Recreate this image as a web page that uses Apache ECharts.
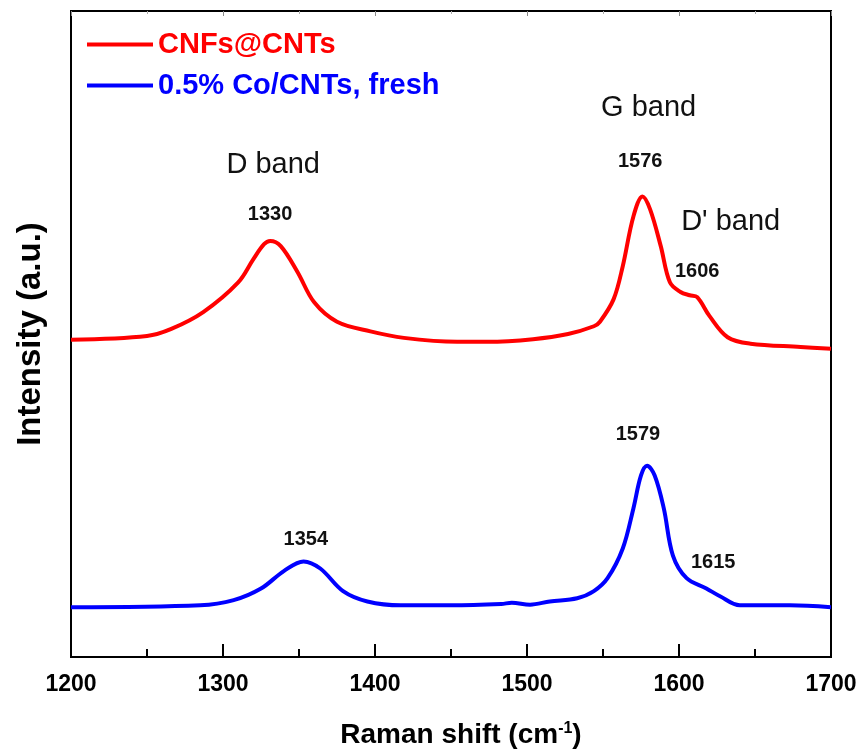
<!DOCTYPE html>
<html>
<head>
<meta charset="utf-8">
<script src="https://cdn.jsdelivr.net/npm/echarts@6/dist/echarts.min.js"></script>
<style>
  html, body { margin: 0; padding: 0; background: #fff; }
  #chart { width: 863px; height: 754px; }
</style>
</head>
<body>
<div id="chart"></div>
<script>
// Raman spectra (x in cm-1, y in arbitrary intensity units)
const xTicks = [1200, 1300, 1400, 1500, 1600, 1700]

const redShift = [1200, 1250, 1266, 1287, 1310, 1320, 1327, 1331, 1338, 1349, 1360, 1375, 1397, 1419, 1454, 1474, 1504, 1527, 1544, 1548, 1557, 1563, 1570, 1576, 1581, 1588, 1594, 1601, 1607, 1612, 1620, 1632, 1647, 1680, 1700]
const redIntensity = [49.1, 49.7, 50.8, 53.4, 58.0, 61.6, 63.9, 64.4, 63.6, 59.6, 54.9, 51.9, 50.4, 49.4, 48.8, 48.8, 49.2, 50.0, 51.2, 51.9, 55.4, 60.5, 68.2, 71.3, 69.3, 63.6, 58.0, 56.5, 56.0, 55.7, 52.8, 49.5, 48.5, 48.0, 47.7]

const blueShift = [1200, 1285, 1307, 1325, 1340, 1353, 1364, 1379, 1395, 1417, 1450, 1483, 1490, 1502, 1515, 1533, 1544, 1553, 1563, 1570, 1575, 1579, 1584, 1590, 1596, 1605, 1618, 1627, 1640, 1673, 1700]
const blueIntensity = [7.7, 8.0, 8.8, 10.6, 13.3, 14.8, 13.7, 10.2, 8.6, 8.0, 8.0, 8.2, 8.4, 8.1, 8.6, 9.1, 10.2, 12.2, 16.8, 23.0, 28.1, 29.6, 28.1, 23.0, 15.7, 12.2, 10.6, 9.4, 8.0, 8.0, 7.7]

const seriesNames = ['CNFs@CNTs', '0.5% Co/CNTs, fresh']

// peak annotations: text and anchor point in data units
const noteTexts = ['D band', '1330', 'G band', '1576', "D' band", '1606', '1579', '1354', '1615']
const noteX = [1333, 1331, 1580, 1574.5, 1634, 1612, 1573, 1354.5, 1622.5]
const noteY = [76.2, 68.5, 85.0, 76.7, 67.4, 59.7, 34.4, 18.2, 14.7]
const bigNotes = ['D band', 'G band', "D' band"]

const plain = "'Liberation Sans', Arial, sans-serif"

const chart = echarts.init(document.getElementById('chart'))

const notes = noteTexts.map((t, i) => {
  const big = bigNotes.includes(t)
  return {
    coord: [noteX[i], noteY[i]],
    symbolSize: 0,
    label: {
      show: true,
      position: 'inside',
      formatter: t,
      color: '#111',
      fontFamily: plain,
      fontSize: big ? 29 : 20,
      fontWeight: big ? 'normal' : 'bold'
    }
  }
})

const option = {
  backgroundColor: '#fff',
  animation: false,
  grid: {
    left: 71, right: 32, top: 11, bottom: 94,
    show: true, borderColor: '#000', borderWidth: 2
  },
  legend: {
    orient: 'vertical',
    left: 82, top: 24,
    itemWidth: 66, itemHeight: 4,
    itemGap: 10,
    icon: 'rect',
    textStyle: { fontFamily: plain, fontSize: 29, fontWeight: 'bold', lineHeight: 31 },
    data: [
      { name: seriesNames[0], textStyle: { color: '#ff0000' } },
      { name: seriesNames[1], textStyle: { color: '#0000ff' } }
    ]
  },
  xAxis: [{
    type: 'value',
    min: 1200, max: 1700, interval: 100,
    axisLine: { lineStyle: { color: '#000', width: 2 } },
    axisTick: { inside: true, length: 13, lineStyle: { color: '#000', width: 2 } },
    minorTick: { show: true, splitNumber: 2, length: 8, lineStyle: { color: '#000', width: 2 } },
    splitLine: { show: false },
    axisLabel: {
      margin: 16, color: '#000', fontFamily: plain, fontWeight: 'bold', fontSize: 23,
      formatter: v => xTicks.includes(v) ? String(v) : ''
    },
    name: '{a|Raman shift (cm}{s|-1}{a|)}',
    nameLocation: 'middle',
    nameGap: 64,
    nameTextStyle: {
      padding: [0, 0, 0, 20],
      rich: {
        a: { fontFamily: plain, fontWeight: 'bold', fontSize: 28, color: '#000', verticalAlign: 'bottom' },
        s: { fontFamily: plain, fontWeight: 'bold', fontSize: 16, color: '#000', verticalAlign: 'top' }
      }
    }
  }, {
    type: 'value', position: 'top',
    min: 1200, max: 1700, interval: 100,
    axisLine: { show: false },
    axisTick: { inside: true, length: 5, lineStyle: { color: '#888', width: 1 } },
    minorTick: { show: true, splitNumber: 2, length: 3, lineStyle: { color: '#aaa' } },
    axisLabel: { show: false },
    splitLine: { show: false }
  }],
  yAxis: {
    type: 'value',
    min: 0, max: 100,
    axisLine: { show: true, lineStyle: { color: '#000', width: 2 } },
    axisTick: { show: false },
    axisLabel: { show: false },
    splitLine: { show: false },
    name: 'Intensity (a.u.)',
    nameLocation: 'middle',
    nameGap: 24,
    nameTextStyle: { fontFamily: plain, fontWeight: 'bold', fontSize: 33, color: '#000' }
  },
  series: [
    {
      name: seriesNames[0],
      type: 'line',
      smooth: 0.35,
      symbol: 'none',
      color: '#ff0000',
      lineStyle: { width: 4, color: '#ff0000' },
      data: redShift.map((x, i) => [x, redIntensity[i]]),
      markPoint: { symbol: 'circle', data: notes, animation: false }
    },
    {
      name: seriesNames[1],
      type: 'line',
      smooth: 0.35,
      symbol: 'none',
      color: '#0000ff',
      lineStyle: { width: 4, color: '#0000ff' },
      data: blueShift.map((x, i) => [x, blueIntensity[i]])
    }
  ]
}

chart.setOption(option)
</script>
</body>
</html>
